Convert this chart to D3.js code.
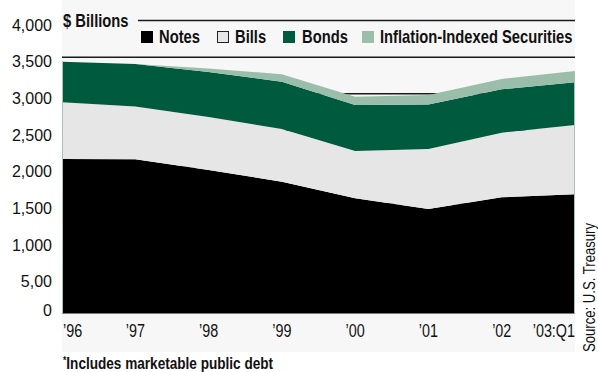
<!DOCTYPE html>
<html>
<head>
<meta charset="utf-8">
<script src="https://cdn.jsdelivr.net/npm/d3@7"></script>
<style>
  html, body { margin: 0; padding: 0; background: #ffffff; }
  svg { display: block; }
  text { font-family: "Liberation Sans", Arial, sans-serif; fill: #111; }
</style>
</head>
<body>
<svg id="chart" width="598" height="372"></svg>
<script>
// Marketable Treasury debt outstanding, $ billions
const years = ["'96", "'97", "'98", "'99", "'00", "'01", "'02", "'03:Q1"];
const notes = [2109, 2105, 1959, 1799, 1573, 1427, 1586, 1627];
const bills = [774, 721, 724, 720, 645, 819, 882, 946];
const bonds = [554, 580, 614, 645, 628, 607, 593, 583];
const tips  = [0, 0, 48, 102, 114, 130, 140, 155];

const yTicks = [0, 500, 1000, 1500, 2000, 2500, 3000, 3500, 4000];
const yTickLabels = ["0", "5,00", "1,000", "1,500", "2,000", "2,500", "3,000", "3,500", "4,000"];

const seriesKeys = ["notes", "bills", "bonds", "tips"];
const seriesNames = ["Notes", "Bills", "Bonds", "Inflation-Indexed Securities"];
const seriesColors = ["#000000", "#e6e6e6", "#005a3d", "#9bbeaa"];

const rows = years.map((yr, i) => ({
  year: yr, notes: notes[i], bills: bills[i], bonds: bonds[i], tips: tips[i]
}));

const svg = d3.select("#chart");
const plotLeft = 62, plotRight = 575, plotTop = 20.5, plotBottom = 313.5;
const NARROW = 0.82; // horizontal squeeze for the condensed captions

const x = d3.scalePoint().domain(years).range([plotLeft, plotRight]);
const y = d3.scaleLinear().domain([0, 4000]).range([plotBottom, plotTop]);

// condensed text: ordinary sans squeezed horizontally around its anchor
function narrowText(parent, px, py, str, size, opts = {}) {
  const sx = opts.sx || NARROW;
  const g = parent.append("g")
    .attr("transform", `translate(${px},${py}) ${opts.rotate ? `rotate(${opts.rotate})` : ""} scale(${sx},1)`);
  const t = g.append("text")
    .attr("x", 0).attr("y", 0)
    .attr("font-size", size)
    .attr("font-weight", opts.bold ? "bold" : "normal")
    .attr("text-anchor", opts.anchor || "start");
  if (str !== null) t.text(str);
  return t;
}

// panel background
svg.append("rect")
  .attr("x", plotLeft).attr("y", 0)
  .attr("width", plotRight - plotLeft).attr("height", 352)
  .attr("fill", "#f7f7f7");

// gridlines sit behind the stacked areas
svg.append("g").selectAll("line")
  .data(yTicks.filter(v => v > 0))
  .join("line")
  .attr("x1", v => v === 4000 ? 138 : plotLeft)
  .attr("x2", plotRight)
  .attr("y1", v => y(v)).attr("y2", v => y(v))
  .attr("stroke", "#1a1a1a")
  .attr("stroke-width", 1.5);

const stack = d3.stack().keys(seriesKeys);
const layers = stack(rows);

const area = d3.area()
  .x(d => x(d.data.year))
  .y0(d => y(d[0]))
  .y1(d => y(d[1]));

svg.append("g").selectAll("path")
  .data(layers)
  .join("path")
  .attr("d", area)
  .attr("fill", (d, i) => seriesColors[i]);

// thin edge lines at both ends of the stack
const totals = rows.map(r => r.notes + r.bills + r.bonds + r.tips);
svg.append("g").selectAll("line")
  .data([0, years.length - 1])
  .join("line")
  .attr("x1", i => x(years[i]) + (i === 0 ? 0.5 : -0.5))
  .attr("x2", i => x(years[i]) + (i === 0 ? 0.5 : -0.5))
  .attr("y1", y(0))
  .attr("y2", i => y(totals[i]))
  .attr("stroke", "#a9c2b4")
  .attr("stroke-width", 1);

// y axis labels
svg.append("g").selectAll("text")
  .data(yTicks)
  .join("text")
  .attr("x", 52)
  .attr("y", v => v === 0 ? y(v) - 3.5 : y(v) + 4.5)
  .attr("dy", "0.36em")
  .attr("text-anchor", "end")
  .attr("font-size", 16)
  .text((v, i) => yTickLabels[i]);

// x axis labels
const xAxis = svg.append("g");
years.forEach((d, i) => {
  const last = i === years.length - 1;
  const px = i === 0 ? plotLeft + 1 : (last ? plotRight : x(d));
  narrowText(xAxis, px, 336.5, d.replace("'", "\u2019"), 17.5,
    { anchor: i === 0 ? "start" : (last ? "end" : "middle") });
});

// unit label and legend
narrowText(svg, 63, 26.5, "$ Billions", 18, { bold: true });

const legendBoxX = [141, 217, 283, 362];
const legendTextX = [159, 235, 302, 380];
const legend = svg.append("g");
seriesNames.forEach((name, i) => {
  legend.append("rect")
    .attr("x", legendBoxX[i] + (i === 1 ? 0.5 : 0))
    .attr("y", 31 + (i === 1 ? 0.5 : 0))
    .attr("width", i === 1 ? 11 : 12).attr("height", i === 1 ? 11 : 12)
    .attr("fill", seriesColors[i])
    .attr("stroke", i === 1 ? "#222" : "none")
    .attr("stroke-width", 1);
  narrowText(legend, legendTextX[i], 42.7, name, 18, { bold: true });
});

// footnote
const foot = narrowText(svg, 63, 368.5, null, 16, { bold: true, sx: 0.85 });
foot.append("tspan").attr("font-size", 10).attr("dy", -5).text("*");
foot.append("tspan").attr("dy", 5).text("Includes marketable public debt");

// source note
narrowText(svg, 595, 352, "Source: U.S. Treasury", 16, { rotate: -90 });
</script>
</body>
</html>
